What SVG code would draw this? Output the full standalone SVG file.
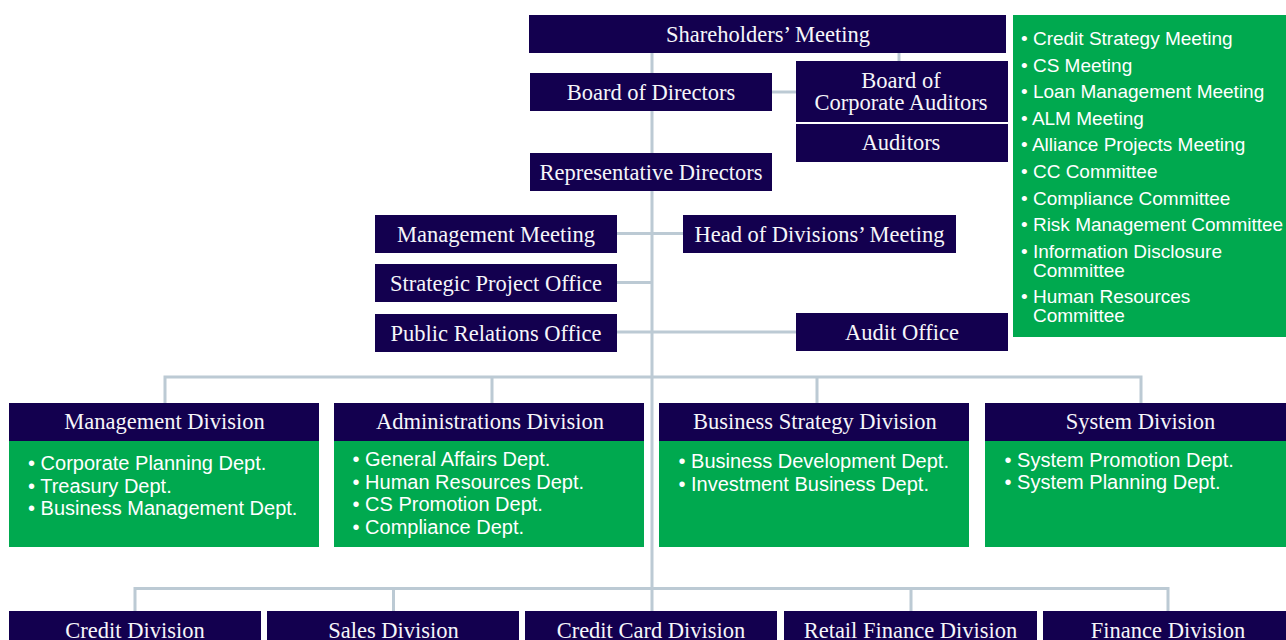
<svg xmlns="http://www.w3.org/2000/svg" width="1286" height="640" viewBox="0 0 1286 640">
  <style>
    .box { fill: #13004f; }
    .list { fill: #00a94f; }
    .title { font-family: "Liberation Serif", "Times New Roman", serif; font-size: 22.5px; fill: #f6f6fa; text-anchor: middle; }
    .item { font-family: "Liberation Sans", Arial, sans-serif; font-size: 20px; fill: #ffffff; }
    .side { font-family: "Liberation Sans", Arial, sans-serif; font-size: 19px; fill: #ffffff; }
    .link { stroke: #bccad4; stroke-width: 3; fill: none; }
  </style>
  <rect width="1286" height="640" fill="#ffffff"/>

  <!-- connectors -->
  <g id="connectors">
    <path class="link" d="M652 53 V611"/>
    <path class="link" d="M899 53 V61"/>
    <path class="link" d="M772 92 H796"/>
    <path class="link" d="M617 233.5 H683"/>
    <path class="link" d="M617 282.5 H652"/>
    <path class="link" d="M617 332 H796"/>
    <path class="link" d="M165 403 V377 H1141 V403 M492 377 V403 M817 377 V403"/>
    <path class="link" d="M135 611 V588.5 H1168 V611 M393.5 588.5 V611 M911 588.5 V611"/>
  </g>

  <!-- governance -->
  <g id="shareholders-meeting">
    <rect class="box" x="529" y="15" width="477" height="38"/>
    <text class="title" x="768" y="42">Shareholders’ Meeting</text>
  </g>
  <g id="board-of-directors">
    <rect class="box" x="530" y="73" width="242" height="38"/>
    <text class="title" x="651" y="99.5">Board of Directors</text>
  </g>
  <g id="board-of-corporate-auditors">
    <rect class="box" x="796" y="61" width="212" height="61"/>
    <text class="title" x="901" y="88">Board of</text>
    <text class="title" x="901" y="110">Corporate Auditors</text>
  </g>
  <g id="auditors">
    <rect class="box" x="796" y="124" width="212" height="38"/>
    <text class="title" x="901" y="150">Auditors</text>
  </g>
  <g id="representative-directors">
    <rect class="box" x="530" y="153" width="242" height="38"/>
    <text class="title" x="651" y="180">Representative Directors</text>
  </g>

  <!-- committees and meetings -->
  <g id="committees">
    <rect class="list" x="1013" y="15" width="273" height="322"/>
    <text class="side" x="1021" y="45">• Credit Strategy Meeting</text>
    <text class="side" x="1021" y="71.6">• CS Meeting</text>
    <text class="side" x="1021" y="98.2">• Loan Management Meeting</text>
    <text class="side" x="1021" y="124.8">• ALM Meeting</text>
    <text class="side" x="1021" y="151.4">• Alliance Projects Meeting</text>
    <text class="side" x="1021" y="178">• CC Committee</text>
    <text class="side" x="1021" y="204.6">• Compliance Committee</text>
    <text class="side" x="1021" y="231.2">• Risk Management Committee</text>
    <text class="side" x="1021" y="257.8">• Information Disclosure<tspan x="1033" y="276.8">Committee</tspan></text>
    <text class="side" x="1021" y="303.4">• Human Resources<tspan x="1033" y="322.4">Committee</tspan></text>
  </g>

  <g id="management-meeting">
    <rect class="box" x="375" y="215" width="242" height="38"/>
    <text class="title" x="496" y="241.5">Management Meeting</text>
  </g>
  <g id="head-of-divisions-meeting">
    <rect class="box" x="683" y="215" width="273" height="38"/>
    <text class="title" x="819.5" y="241.5">Head of Divisions’ Meeting</text>
  </g>
  <g id="strategic-project-office">
    <rect class="box" x="375" y="264" width="242" height="38"/>
    <text class="title" x="496" y="290.5">Strategic Project Office</text>
  </g>
  <g id="public-relations-office">
    <rect class="box" x="375" y="314" width="242" height="38"/>
    <text class="title" x="496" y="340.5">Public Relations Office</text>
  </g>
  <g id="audit-office">
    <rect class="box" x="796" y="313" width="212" height="38"/>
    <text class="title" x="902" y="339.5">Audit Office</text>
  </g>

  <!-- upper divisions -->
  <g id="management-division">
    <rect class="box" x="9" y="403" width="310" height="38"/>
    <rect class="list" x="9" y="441" width="310" height="106"/>
    <text class="title" x="164.5" y="428.5">Management Division</text>
    <text class="item" x="28" y="470">• Corporate Planning Dept.</text>
    <text class="item" x="28" y="492.5">• Treasury Dept.</text>
    <text class="item" x="28" y="515">• Business Management Dept.</text>
  </g>
  <g id="administrations-division">
    <rect class="box" x="334" y="403" width="310" height="38"/>
    <rect class="list" x="334" y="441" width="310" height="106"/>
    <text class="title" x="490" y="428.5">Administrations Division</text>
    <text class="item" x="352.5" y="466">• General Affairs Dept.</text>
    <text class="item" x="352.5" y="488.7">• Human Resources Dept.</text>
    <text class="item" x="352.5" y="511.3">• CS Promotion Dept.</text>
    <text class="item" x="352.5" y="534">• Compliance Dept.</text>
  </g>
  <g id="business-strategy-division">
    <rect class="box" x="659" y="403" width="310" height="38"/>
    <rect class="list" x="659" y="441" width="310" height="106"/>
    <text class="title" x="815" y="428.5">Business Strategy Division</text>
    <text class="item" x="678.5" y="468">• Business Development Dept.</text>
    <text class="item" x="678.5" y="490.5">• Investment Business Dept.</text>
  </g>
  <g id="system-division">
    <rect class="box" x="985" y="403" width="310" height="38"/>
    <rect class="list" x="985" y="441" width="310" height="106"/>
    <text class="title" x="1140.5" y="428.5">System Division</text>
    <text class="item" x="1004.5" y="466.5">• System Promotion Dept.</text>
    <text class="item" x="1004.5" y="489">• System Planning Dept.</text>
  </g>

  <!-- lower divisions -->
  <g id="credit-division">
    <rect class="box" x="9" y="611" width="252" height="38"/>
    <text class="title" x="135" y="638">Credit Division</text>
  </g>
  <g id="sales-division">
    <rect class="box" x="267" y="611" width="252" height="38"/>
    <text class="title" x="393.5" y="638">Sales Division</text>
  </g>
  <g id="credit-card-division">
    <rect class="box" x="525" y="611" width="252" height="38"/>
    <text class="title" x="651" y="638">Credit Card Division</text>
  </g>
  <g id="retail-finance-division">
    <rect class="box" x="784" y="611" width="253" height="38"/>
    <text class="title" x="910.5" y="638">Retail Finance Division</text>
  </g>
  <g id="finance-division">
    <rect class="box" x="1043" y="611" width="252" height="38"/>
    <text class="title" x="1168" y="638">Finance Division</text>
  </g>
</svg>
